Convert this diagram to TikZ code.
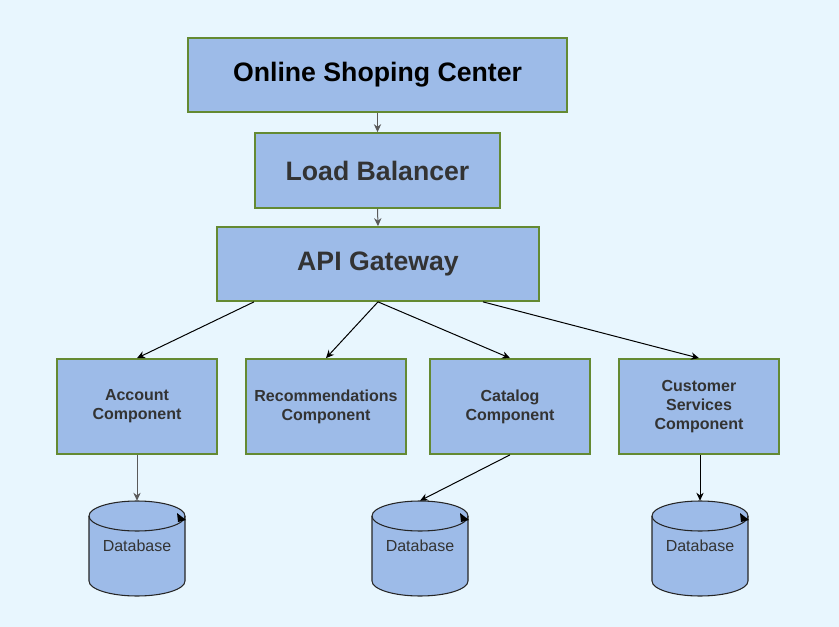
\documentclass[tikz,border=0pt]{standalone}
\usepackage{fontspec}
\setmainfont{Liberation Sans}
\usetikzlibrary{arrows.meta}
\definecolor{bgc}{RGB}{232,246,254}
\definecolor{boxfill}{RGB}{157,187,232}
\definecolor{boxline}{RGB}{100,138,50}
\definecolor{txt}{RGB}{51,51,51}
\definecolor{vline}{RGB}{90,90,90}
\tikzset{
  box/.style={draw=boxline, fill=boxfill, line width=1.3pt, rectangle, align=center, inner sep=0pt, text=txt},
  bigbox/.style={box, font=\fontsize{20}{23}\selectfont\bfseries},
  compbox/.style={box, minimum width=120pt, minimum height=71.25pt, font=\fontsize{12}{14.2}\selectfont\bfseries},
  dbtext/.style={inner sep=0pt, text=txt, font=\fontsize{12}{14}\selectfont},
  dbanchor/.style={inner sep=0pt, minimum width=72pt, minimum height=71.25pt},
  conn/.style={-{Stealth[length=6pt,width=5.5pt]}, line width=0.75pt, black},
  vconn/.style={conn, draw=vline},
  cyl/.style={draw=black!85, fill=boxfill, line width=0.8pt}
}
\newcommand{\dbcyl}[2]{%
  \path[cyl] (#1-48,516) -- (#1-48,581) arc[start angle=180,end angle=360,x radius=36pt,y radius=11.25pt] -- (#1+48,516) arc[start angle=0,end angle=180,x radius=36pt,y radius=11.25pt] -- cycle;
  \draw[cyl, fill=none] (#1-48,516) arc[start angle=180,end angle=360,x radius=36pt,y radius=11.25pt];
  \fill[black] (#1+40,513) -- (#1+49,520) -- (#1+41,522) -- cycle;
  \node[dbanchor] (#2) at (#1,548.5) {};
  \node[dbtext] (#2t) at (#1,546) {Database};
}
\begin{document}
\begin{tikzpicture}[x=0.75pt,y=-0.75pt]
\fill[bgc] (0,0) rectangle (839,627);
\useasboundingbox (0,0) rectangle (839,627);

\node[bigbox, text=black, minimum width=284.25pt, minimum height=55.5pt] (osc) at (377.5,75) {Online Shoping Center};
\node[bigbox, minimum width=183.75pt, minimum height=56.25pt] (lb) at (377.5,170.5) {Load Balancer};
\node[bigbox, minimum width=241.5pt, minimum height=55.5pt] (api) at (378,264) {API Gateway};

\node[compbox] (acc) at (137,406.5) {Account\\Component};
\node[compbox] (rec) at (326,406.5) {Recommendations\\Component};
\node[compbox] (cat) at (510,406.5) {Catalog\\Component};
\node[compbox] (cus) at (699,406.5) {Customer\\Services\\Component};

\dbcyl{137}{db1}
\dbcyl{420}{db2}
\dbcyl{700}{db3}

\draw[vconn] (osc.south) -- (lb.north);
\draw[vconn] (lb.south) -- (api.north);
\draw[conn] ([xshift=-93pt]api.south) -- (acc.north);
\draw[conn] (api.south) -- (rec.north);
\draw[conn] (api.south) -- (cat.north);
\draw[conn] ([xshift=78.75pt]api.south) -- (cus.north);
\draw[vconn] (acc.south) -- (db1.north);
\draw[conn] (cat.south) -- (db2.north);
\draw[conn] ([xshift=0.75pt]cus.south) -- (db3.north);
\end{tikzpicture}
\end{document}
